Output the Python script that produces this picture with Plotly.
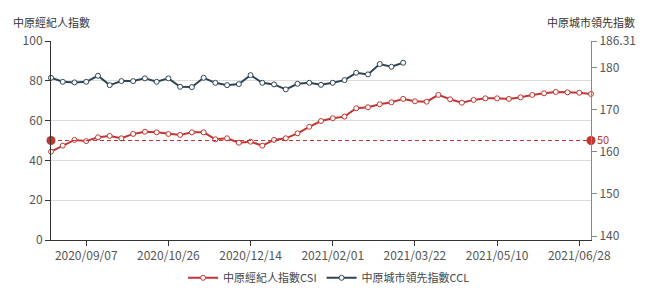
import pandas as pd
import plotly.graph_objects as go

dates = pd.date_range("2020-08-17", periods=47, freq="7D")

csi = [44.4, 47.4, 50.3, 49.7, 51.6, 52.3, 51.1, 53.3, 54.4, 54.1, 53.3, 52.8, 54.1, 54.1, 50.6, 51.1,
       48.9, 49.4, 47.4, 50.3, 51.1, 53.6, 56.9, 59.8, 61.2, 62.0, 66.2, 66.7, 68.2, 69.2, 70.9,
       69.7,
       69.5, 72.9, 70.7, 69.0, 70.4, 71.2, 71.2, 70.9, 71.7, 72.9, 73.7, 74.4, 74.2, 74.0, 73.4]

ccl = [177.57, 176.62, 176.48, 176.62, 178.05, 175.83, 176.79, 176.79, 177.43, 176.62, 177.43,
       175.43, 175.36, 177.57, 176.38, 175.83,
       176.07, 178.21, 176.38, 176.00, 174.81, 176.14, 176.38, 175.90, 176.38, 177.02, 178.76,
       178.38, 180.83, 180.19, 181.14]

ref_value = 50
left_ticks = [0, 20, 40, 60, 80, 100]
right_ticks = [140, 150, 160, 170, 180, 186.31]
right_range = [139.05, 186.31]
xtick_dates = ["2020-09-07", "2020-10-26", "2020-12-14", "2021-02-01", "2021-03-22", "2021-05-10", "2021-06-28"]

RED = "#c23531"
DARK = "#2f4554"
FONT = "Noto Sans CJK TC, Noto Sans, sans-serif"

fig = go.Figure()

fig.add_trace(go.Scatter(
    x=dates, y=csi, name="中原經紀人指數CSI", mode="lines+markers",
    line=dict(color=RED, width=2),
    marker=dict(symbol="circle", size=5, color="white", line=dict(color=RED, width=1)),
    yaxis="y", cliponaxis=False,
))
fig.add_trace(go.Scatter(
    x=dates[:len(ccl)], y=ccl, name="中原城市領先指數CCL", mode="lines+markers",
    line=dict(color=DARK, width=2),
    marker=dict(symbol="circle", size=5, color="white", line=dict(color=DARK, width=1)),
    yaxis="y2", cliponaxis=False,
))
fig.add_trace(go.Scatter(
    x=[dates[0], dates[-1]], y=[ref_value, ref_value], mode="lines+markers",
    line=dict(color=RED, width=1, dash="4px,3px"),
    marker=dict(size=9, color=RED),
    showlegend=False, yaxis="y", cliponaxis=False, hoverinfo="skip",
))

fig.add_annotation(x=1, xref="paper", y=ref_value, yref="y", text=str(ref_value),
                   showarrow=False, xanchor="left", xshift=4, yshift=2,
                   font=dict(color=RED, size=11, family=FONT))
fig.add_annotation(x=0, xref="paper", y=1, yref="paper", text="中原經紀人指數",
                   showarrow=False, xanchor="center", yanchor="middle", yshift=19,
                   font=dict(color="#333", size=11, family=FONT))
fig.add_annotation(x=1, xref="paper", y=1, yref="paper", text="中原城市領先指數",
                   showarrow=False, xanchor="center", yanchor="middle", yshift=19,
                   font=dict(color="#333", size=11, family=FONT))

fig.update_layout(
    width=658, height=293,
    margin=dict(l=51, r=67, t=41, b=53, autoexpand=False),
    paper_bgcolor="white", plot_bgcolor="white",
    font=dict(family=FONT, size=12, color="#555"),
    showlegend=True,
    legend=dict(orientation="h", x=0.515, xanchor="center", y=-0.19, yanchor="middle",
                font=dict(size=11, color="#444"), itemwidth=30),
    xaxis=dict(
        type="date", range=[dates[0], dates[-1]],
        tickvals=xtick_dates, tickformat="%Y/%m/%d",
        showgrid=False, zeroline=False,
        showline=True, linecolor="#333", linewidth=1,
        ticks="outside", ticklen=5, tickcolor="#333",
        tickfont=dict(size=12, color="#555"),
    ),
    yaxis=dict(
        range=[0, 100], tickvals=left_ticks,
        showgrid=True, gridcolor="#dcdcdc", zeroline=False,
        showline=True, linecolor="#333", linewidth=1,
        ticks="outside", ticklen=5, tickcolor="#333",
        tickfont=dict(size=12, color="#555"),
    ),
    yaxis2=dict(
        overlaying="y", side="right", range=right_range,
        tickvals=right_ticks, ticktext=[str(t) for t in right_ticks],
        showgrid=False, zeroline=False,
        showline=True, linecolor="#888", linewidth=1,
        ticks="outside", ticklen=5, tickcolor="#888",
        tickfont=dict(size=12, color="#555"),
    ),
)

fig.write_html("out.html")
